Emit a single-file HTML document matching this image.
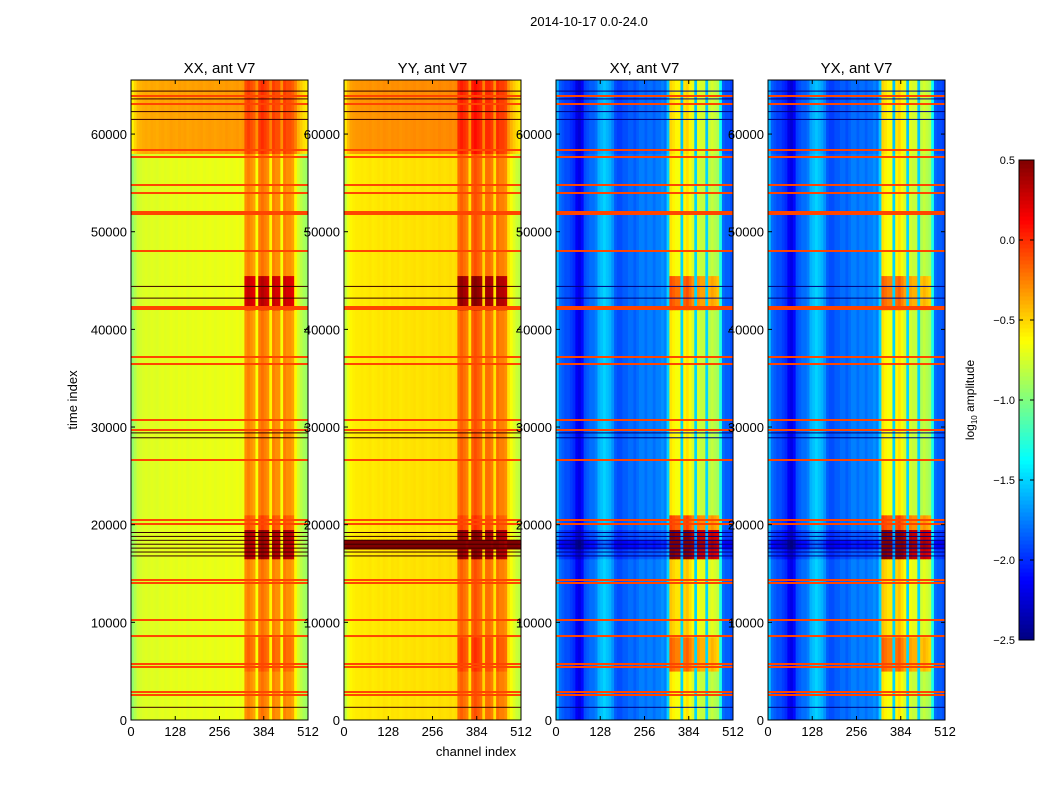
<!DOCTYPE html>
<html><head><meta charset="utf-8"><style>
body{margin:0;background:#fff;}
svg{display:block;font-family:"Liberation Sans",sans-serif;}
</style></head><body>
<svg id="fig" width="1050" height="800"></svg>
<script>
// ---- data ----
const panelTitles = ["XX, ant V7","YY, ant V7","XY, ant V7","YX, ant V7"];
const xTicks = [0,128,256,384,512];
const yTicks = [0,10000,20000,30000,40000,50000,60000];
const cbTicks = [0.5,0.0,-0.5,-1.0,-1.5,-2.0,-2.5];
const timeEdges = [0,5000,8500,16500,17500,18500,19500,21000,42000,45500,58000,65536];
// channel mask per 8-channel bin: 0 background, 1 rfi band, 2 gap
const rfiMask = [0,0,0,0,0,0,0,0,0,0,0,0,0,0,0,0,0,0,0,0,0,0,0,0,0,0,0,0,0,0,0,0,0,0,0,0,0,0,0,0,0,1,1,1,1,2,1,1,1,1,2,1,1,1,2,1,1,1,1,2,0,0,0,0];
const xxBase = [-0.95,-0.85,-0.77,-0.75,-0.73,-0.72,-0.73,-0.71,-0.72,-0.73,-0.71,-0.7,-0.72,-0.71,-0.69,-0.7,-0.71,-0.69,-0.7,-0.69,-0.71,-0.7,-0.69,-0.7,-0.69,-0.68,-0.7,-0.69,-0.68,-0.69,-0.7,-0.69,-0.68,-0.69,-0.67,-0.68,-0.69,-0.68,-0.67,-0.69,-0.67,-0.3,-0.25,-0.3,-0.35,-0.65,-0.25,-0.2,-0.25,-0.3,-0.6,-0.25,-0.3,-0.3,-0.65,-0.25,-0.3,-0.3,-0.35,-0.6,-0.75,-0.82,-0.88,-0.92];
const yyBase = [-0.82,-0.68,-0.6,-0.58,-0.57,-0.57,-0.56,-0.57,-0.56,-0.55,-0.57,-0.56,-0.55,-0.56,-0.54,-0.55,-0.56,-0.54,-0.55,-0.54,-0.56,-0.55,-0.54,-0.55,-0.54,-0.53,-0.55,-0.54,-0.53,-0.54,-0.55,-0.54,-0.53,-0.54,-0.52,-0.53,-0.54,-0.53,-0.52,-0.54,-0.52,-0.2,-0.15,-0.2,-0.25,-0.55,-0.15,-0.1,-0.15,-0.2,-0.5,-0.2,-0.2,-0.25,-0.55,-0.2,-0.25,-0.25,-0.3,-0.55,-0.65,-0.72,-0.78,-0.82];
const xyBase = [-1.55,-1.8,-1.85,-1.9,-1.9,-1.95,-2.0,-2.15,-2.2,-2.1,-1.9,-1.85,-1.8,-1.8,-1.75,-1.6,-1.55,-1.5,-1.55,-1.6,-1.7,-1.85,-1.9,-1.9,-1.85,-1.85,-1.8,-1.8,-1.85,-1.8,-1.75,-1.75,-1.8,-1.75,-1.75,-1.8,-1.75,-1.75,-1.7,-1.75,-1.5,-0.55,-0.6,-0.65,-0.65,-1.5,-0.6,-0.55,-0.65,-0.75,-1.5,-0.75,-0.8,-0.8,-1.5,-0.85,-0.8,-0.85,-0.9,-1.3,-1.8,-1.85,-1.85,-1.9];
const yxBase = xyBase.slice();
const xxBg  = [0,0,0,0,0,0,0,0,0,0,0.35];
const xxRfi = [0,0.1,0,0.65,0.65,0.65,0.15,0,0.55,0,0.2];
const yyBg  = [0,0,0,0,1.3,0,0,0,0,0,0.25];
const yyRfi = [0,0.1,0,0.6,0.7,0.6,0.1,0,0.6,0,0.2];
const xyBg  = [0,0,0,-0.1,-0.3,-0.1,0,0,0,0,-0.05];
const xyRfi = [0,0.4,0.1,1.1,1.2,1.1,0.5,0,0.45,0,0.05];
const yxBg  = xyBg.slice();
const yxRfi = [0,0.4,0.1,1.1,1.2,1.1,0.5,0,0.4,0,0.05];
const flagRows = [2560,2867,5427,5734,8600,10240,14029,14336,20070,20480,26624,29696,30720,36454,37171,42086,42291,48026,51814,52019,53965,54784,57651,58368,63078,63898];
const darkRows = [1300,16800,17200,17600,18000,18400,18800,19200,28900,29400,43200,44400,61500,62300,63600,64400];
// ---- layout ----
const panelX = [131,344,556,768], panelW = 177, axTop = 80, axBot = 720, tMax = 65536, vMin = -2.5, vMax = 0.5;
const NS = "http://www.w3.org/2000/svg";
const svg = document.getElementById("fig");
function el(tag, attrs, parent){const e=document.createElementNS(NS,tag);for(const k in attrs)e.setAttribute(k,attrs[k]);(parent||svg).appendChild(e);return e;}
function yOf(t){return axBot - t/tMax*(axBot-axTop);}
function jet(v){let n=(v-vMin)/(vMax-vMin);n=Math.max(0,Math.min(1,n));
  const r=Math.max(0,Math.min(1,Math.min(4*n-1.5,-4*n+4.5)));
  const g=Math.max(0,Math.min(1,Math.min(4*n-0.5,-4*n+3.5)));
  const b=Math.max(0,Math.min(1,Math.min(4*n+0.5,-4*n+2.5)));
  return `rgb(${Math.round(r*255)},${Math.round(g*255)},${Math.round(b*255)})`;}
const bases=[xxBase,yyBase,xyBase,yxBase], bgs=[xxBg,yyBg,xyBg,yxBg], rfis=[xxRfi,yyRfi,xyRfi,yxRfi];
const ttl=el("text",{x:589,y:26,"text-anchor":"middle","font-size":13});
ttl.textContent="2014-10-17 0.0-24.0";


for(let p=0;p<4;p++){
  const x0=panelX[p], xOf=c=>x0+c/512*panelW;
  const g=el("g",{});
  
  
  for(let s=0;s<timeEdges.length-1;s++){
    const y1=yOf(timeEdges[s+1]), y0=yOf(timeEdges[s]);
    for(let c=0;c<bases[p].length;c++){
      const v=bases[p][c]+(rfiMask[c]===1?rfis[p][s]:bgs[p][s]);
      const r=el("rect",{x:xOf(c*8),y:y1,width:panelW/64+0.4,height:y0-y1+0.4,fill:jet(v)},g);
      
      
    }
  }
  for(const t of flagRows){const l=el("rect",{x:x0,y:yOf(t)-1,width:panelW,height:2,fill:"#ff4500"},g);
    
    }
  for(const t of darkRows){const l=el("rect",{x:x0,y:yOf(t)-0.5,width:panelW,height:1,fill:p<2?"#3a0000":"#00007f"},g);
    
    }
  const fr=el("rect",{x:x0,y:axTop,width:panelW,height:axBot-axTop,fill:"none",stroke:"#000","stroke-width":1});
  
  
  const tt=el("text",{x:x0+panelW/2,y:73,"text-anchor":"middle","font-size":15});
  tt.textContent=panelTitles[p];
  
  
  for(const c of xTicks){const x=xOf(c);
    el("line",{x1:x,y1:axBot,x2:x,y2:axBot-4,stroke:"#000"});
    el("line",{x1:x,y1:axTop,x2:x,y2:axTop+4,stroke:"#000"});
    const tl=el("text",{x:x,y:736,"text-anchor":"middle","font-size":13});tl.textContent=c;
    
    }
  for(const t of yTicks){const y=yOf(t);
    el("line",{x1:x0,y1:y,x2:x0+4,y2:y,stroke:"#000"});
    el("line",{x1:x0+panelW,y1:y,x2:x0+panelW-4,y2:y,stroke:"#000"});
    const tl=el("text",{x:x0-4,y:y+5,"text-anchor":"end","font-size":13});tl.textContent=t;
    
    }
}
const yl=el("text",{x:77,y:400,"text-anchor":"middle","font-size":13,transform:"rotate(-90 77 400)"});
yl.textContent="time index";


const xl=el("text",{x:476,y:756,"text-anchor":"middle","font-size":13});
xl.textContent="channel index";


// colorbar
const cbx=1019,cbw=15,cbTop=160,cbBot=640;
const cb=el("g",{});


for(let i=0;i<120;i++){const v=vMin+(i+0.5)/120*(vMax-vMin);const y=cbBot-(i+1)/120*(cbBot-cbTop);
  el("rect",{x:cbx,y:y,width:cbw,height:(cbBot-cbTop)/120+0.5,fill:jet(v)},cb);}
el("rect",{x:cbx,y:cbTop,width:cbw,height:cbBot-cbTop,fill:"none",stroke:"#000"},cb);
for(const v of cbTicks){const y=cbBot-(v-vMin)/(vMax-vMin)*(cbBot-cbTop);
  el("line",{x1:cbx+cbw,y1:y,x2:cbx+cbw-4,y2:y,stroke:"#000"},cb);
  el("line",{x1:cbx,y1:y,x2:cbx+4,y2:y,stroke:"#000"},cb);
  const tl=el("text",{x:1015,y:y+4,"font-size":11,"text-anchor":"end"},cb);tl.textContent=(v<0?"\u2212":"")+Math.abs(v).toFixed(1);
  
  }
const cl=el("text",{x:974,y:400,"text-anchor":"middle","font-size":12,transform:"rotate(-90 974 400)"});
cl.innerHTML='log<tspan font-size="8" dy="3">10</tspan><tspan dy="-3"> amplitude</tspan>';


</script>
</body></html>
